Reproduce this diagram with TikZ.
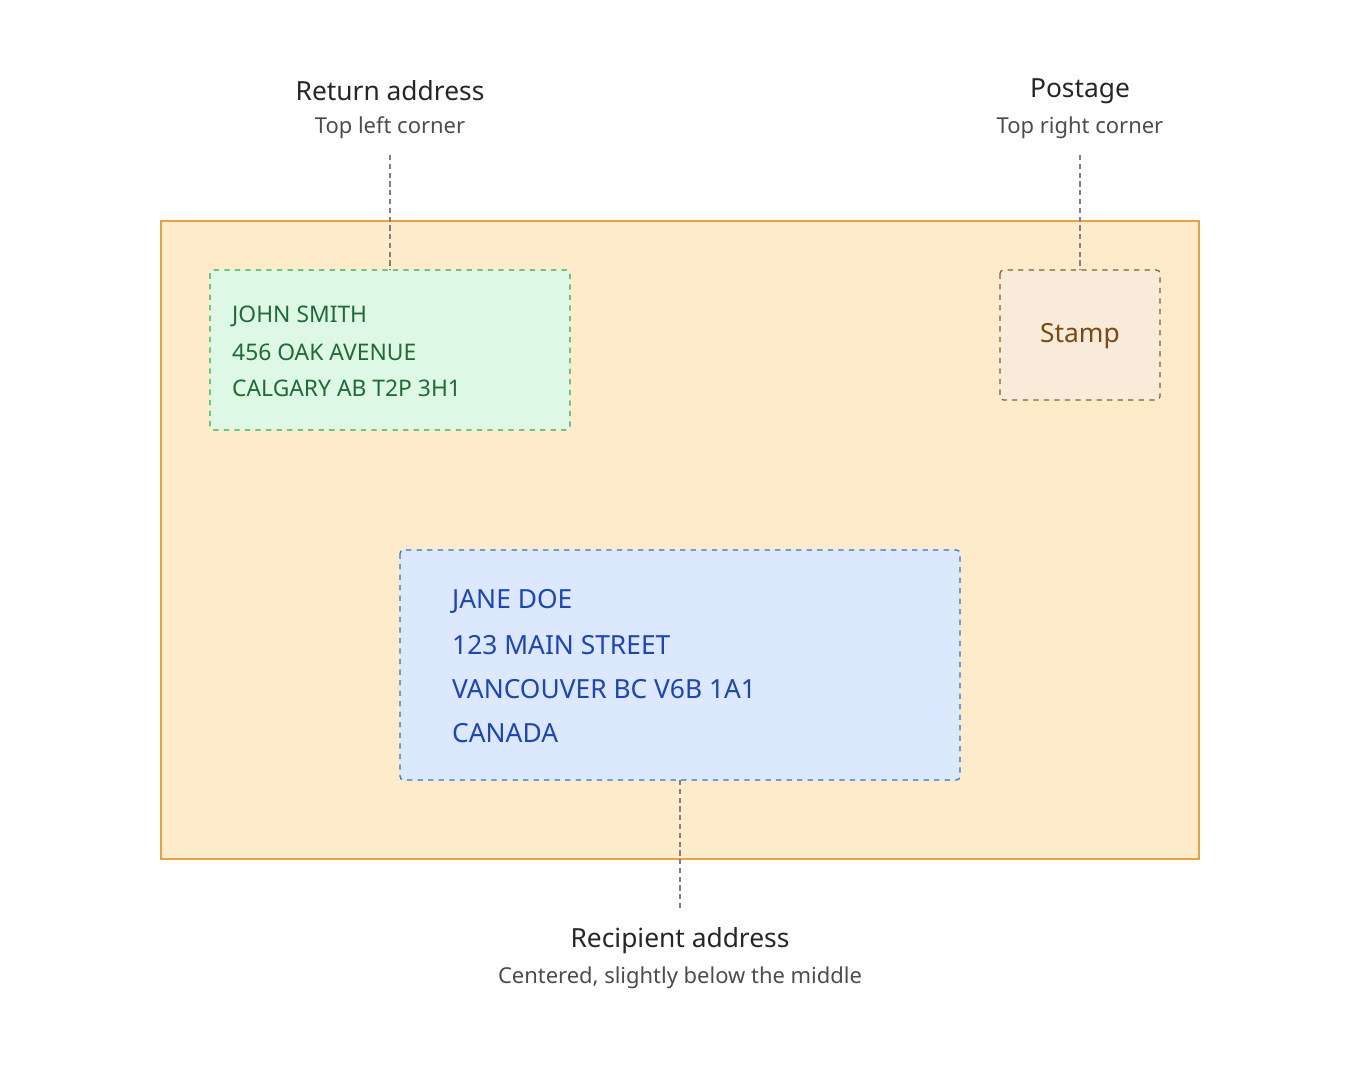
\documentclass[tikz,border=0pt]{standalone}
\usepackage{fontspec}
\setmainfont{Noto Sans}
\definecolor{envfill}{HTML}{FDEBCA}
\definecolor{envline}{HTML}{E8A33A}
\definecolor{retfill}{HTML}{DDF8E5}
\definecolor{retline}{HTML}{2DAA55}
\definecolor{rettext}{HTML}{1E6B35}
\definecolor{stfill}{HTML}{F8EBD9}
\definecolor{stline}{HTML}{8B5A2B}
\definecolor{sttext}{HTML}{7A4A10}
\definecolor{recfill}{HTML}{DBE8FD}
\definecolor{recline}{HTML}{2F6FE0}
\definecolor{rectext}{HTML}{1A44C0}
\tikzset{
  zone/.style={dashed, line width=0.7pt, rounded corners=2pt},
  title/.style={font=\fontsize{15}{18}\selectfont, text=black!85},
  sub/.style={font=\fontsize{12.5}{15}\selectfont, text=black!70},
  leader/.style={densely dashed, gray, line width=0.6pt}
}
\begin{document}
\begin{tikzpicture}[x=0.02cm, y=-0.02cm]
      \useasboundingbox (0,0) rectangle (1360,1080);
      % envelope
      \draw[fill=envfill, draw=envline, line width=0.8pt] (161,221) rectangle (1199,859);
      \draw[zone, fill=retfill, draw=retline] (210,270) rectangle (570,430);
      \draw[zone, fill=stfill, draw=stline] (1000,270) rectangle (1160,400);
      \draw[zone, fill=recfill, draw=recline] (400,550) rectangle (960,780);
      \coordinate (rettop) at (390,270);
      \coordinate (sttop) at (1080,270);
      \coordinate (recbot) at (680,780);
      % address lines
      \begin{scope}[font=\fontsize{13}{15}\selectfont, text=rettext]
        \node[anchor=west] (r1) at (226,316) {JOHN SMITH};
        \node[anchor=west] (r2) at (226,352) {456 OAK AVENUE};
        \node[anchor=west] (r3) at (226,388) {CALGARY AB T2P 3H1};
      \end{scope}
      \node[font=\fontsize{15}{18}\selectfont, text=sttext] (stamp) at (1080,336) {Stamp};
      \begin{scope}[font=\fontsize{15}{18}\selectfont, text=rectext]
        \node[anchor=west] (a1) at (446,601) {JANE DOE};
        \node[anchor=west] (a2) at (446,645) {123 MAIN STREET};
        \node[anchor=west] (a3) at (446,689) {VANCOUVER BC V6B 1A1};
        \node[anchor=west] (a4) at (446,733) {CANADA};
      \end{scope}
      % labels
      \node[title] (rett) at (390,91) {Return address};
      \node[sub] (rets) at (390,128) {Top left corner};
      \node[title] (stt) at (1080,91) {Postage};
      \node[sub] (sts) at (1080,128) {Top right corner};
      \node[title] (rect) at (680,941) {Recipient address};
      \node[sub] (recs) at (680,978) {Centered, slightly below the middle};
      \draw[leader] (rets.south |- 0,155) -- (rettop);
      \draw[leader] (sts.south |- 0,155) -- (sttop);
      \draw[leader] (recbot) -- (680,910);
    \end{tikzpicture}
\end{document}
